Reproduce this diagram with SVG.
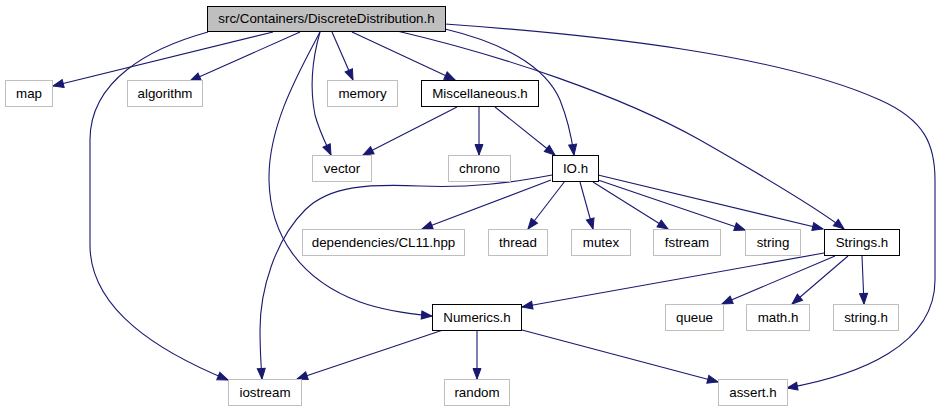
<svg xmlns="http://www.w3.org/2000/svg" width="942" height="411" viewBox="0 0 942 411">
<style>
.n rect{fill:#fff;stroke:#bfbfbf;stroke-width:1}
.n.k rect{stroke:#000}
.n.r rect{fill:#bfbfbf;stroke:#000}
.n text{font-family:"Liberation Sans",Arial,sans-serif;font-size:13.33px;fill:#000;text-anchor:middle}
#edges path{fill:none;stroke:#191970;stroke-width:1.1;marker-end:url(#ah)}
</style>
<defs>
<marker id="ah" markerUnits="userSpaceOnUse" markerWidth="13" markerHeight="11" viewBox="-1 -5.5 13 11" refX="10.5" refY="0" orient="auto">
<path d="M0,-4 L10.5,0 L0,4 Z" fill="#191970" stroke="#191970" stroke-width="1"/>
</marker>
</defs>
<rect width="942" height="411" fill="#fff"/>
<g id="edges">
<path d="M273,32 L53,86"/>
<path d="M300,32 L190,81"/>
<path d="M208,32 C150,48 90,80 90,140 L90,245 C90,310 160,352 228,380"/>
<path d="M320,32 C300,70 268,125 269,180 C270,235 300,280 360,302 C385,311 410,314 432,316"/>
<path d="M320,32 C312,60 310,90 315,115 C319,130 325,142 331,155"/>
<path d="M332,32 L353,80"/>
<path d="M352,32 L455,80"/>
<path d="M445,29 C500,42 545,65 560,100 C568,120 572,140 574,155"/>
<path d="M397,31 C500,55 620,95 700,140 C770,180 820,210 844,229"/>
<path d="M445,24 C600,35 780,55 880,100 C925,120 935,145 935,180 L935,280 C935,345 860,375 787,388"/>
<path d="M457,107 L363,155"/>
<path d="M479,107 L479,155"/>
<path d="M495,107 L555,155"/>
<path d="M552,175 C510,183 470,188 420,186 C370,184 330,185 305,210 C275,240 260,290 260,330 C260,350 261,365 262,379"/>
<path d="M551,180 L422,229"/>
<path d="M565,181 L528,229"/>
<path d="M580,182 L593,229"/>
<path d="M593,182 L668,229"/>
<path d="M598,180 L745,230"/>
<path d="M598,175 L823,229"/>
<path d="M824,253 L522,307"/>
<path d="M835,256 L722,304"/>
<path d="M848,256 L792,304"/>
<path d="M862,256 L864,304"/>
<path d="M443,330 L297,379"/>
<path d="M477,330 L477,379"/>
<path d="M522,330 L718,382"/>
</g>
<g id="root" class="n r"><rect x="207.5" y="6.5" width="238" height="25"/><text x="326.5" y="23">src/Containers/DiscreteDistribution.h</text></g>
<g id="map" class="n"><rect x="5.5" y="80.5" width="47" height="26"/><text x="29" y="97.5">map</text></g>
<g id="algorithm" class="n"><rect x="127.5" y="80.5" width="75" height="26"/><text x="165" y="97.5">algorithm</text></g>
<g id="memory" class="n"><rect x="327.5" y="80.5" width="70" height="26"/><text x="362.5" y="97.5">memory</text></g>
<g id="misc" class="n k"><rect x="421.5" y="80.5" width="117" height="26"/><text x="480" y="97.5">Miscellaneous.h</text></g>
<g id="vector" class="n"><rect x="312.5" y="155.5" width="59" height="26"/><text x="342" y="172.5">vector</text></g>
<g id="chrono" class="n"><rect x="448.5" y="155.5" width="62" height="26"/><text x="479.5" y="172.5">chrono</text></g>
<g id="io" class="n k"><rect x="552.5" y="155.5" width="46" height="26"/><text x="575.5" y="172.5">IO.h</text></g>
<g id="cl11" class="n"><rect x="302.5" y="229.5" width="162" height="26"/><text x="383.5" y="246.5">dependencies/CL11.hpp</text></g>
<g id="thread" class="n"><rect x="488.5" y="229.5" width="59" height="26"/><text x="518" y="246.5">thread</text></g>
<g id="mutex" class="n"><rect x="571.5" y="229.5" width="59" height="26"/><text x="601" y="246.5">mutex</text></g>
<g id="fstream" class="n"><rect x="653.5" y="229.5" width="67" height="26"/><text x="687" y="246.5">fstream</text></g>
<g id="string" class="n"><rect x="745.5" y="229.5" width="55" height="26"/><text x="773" y="246.5">string</text></g>
<g id="strings" class="n k"><rect x="824.5" y="229.5" width="75" height="26"/><text x="862" y="246.5">Strings.h</text></g>
<g id="numerics" class="n k"><rect x="432.5" y="304.5" width="89" height="26"/><text x="477" y="321.5">Numerics.h</text></g>
<g id="queue" class="n"><rect x="665.5" y="304.5" width="58" height="26"/><text x="694.5" y="321.5">queue</text></g>
<g id="math" class="n"><rect x="746.5" y="304.5" width="63" height="26"/><text x="778" y="321.5">math.h</text></g>
<g id="stringh" class="n"><rect x="833.5" y="304.5" width="65" height="26"/><text x="866" y="321.5">string.h</text></g>
<g id="iostream" class="n"><rect x="228.5" y="379.5" width="73" height="26"/><text x="265" y="396.5">iostream</text></g>
<g id="random" class="n"><rect x="444.5" y="379.5" width="65" height="26"/><text x="477" y="396.5">random</text></g>
<g id="assert" class="n"><rect x="718.5" y="379.5" width="69" height="26"/><text x="753" y="396.5">assert.h</text></g>
</svg>
